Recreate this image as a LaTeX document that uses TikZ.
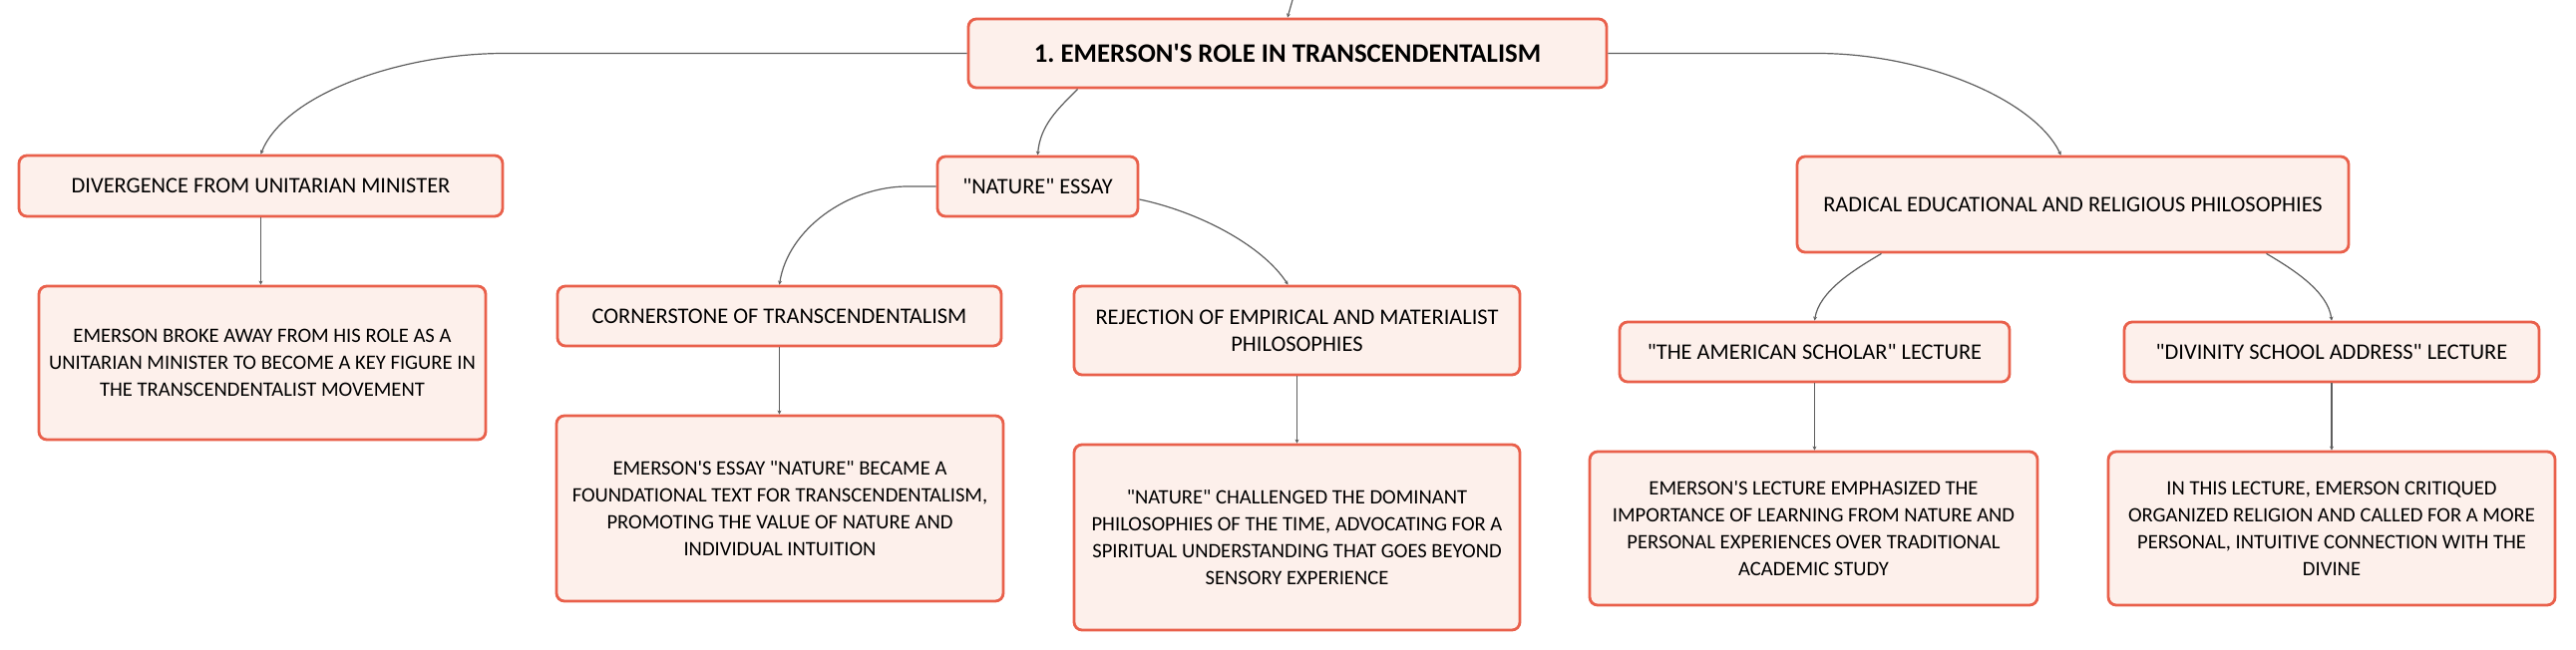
\documentclass[tikz,border=0pt]{standalone}
\usepackage{fontspec}
\setmainfont{Carlito}[Ligatures=TeXOff]
\usetikzlibrary{arrows.meta}
\definecolor{boxred}{HTML}{E9604B}
\definecolor{boxfill}{HTML}{FDF0EB}
\definecolor{linkgray}{HTML}{5E5E5E}
\begin{document}
\begin{tikzpicture}[x=0.5pt,y=-0.5pt,
    box/.style={draw=boxred,fill=boxfill,line width=1.4pt,rounded corners=4pt,align=center,inner sep=0pt,font=\fontsize{11.2}{13.5}\selectfont},
    detail/.style={box,font=\fontsize{10.3}{13.5}\selectfont},
    link/.style={draw=linkgray,line width=0.6pt,-{Stealth[length=2pt,width=2pt]}}]
    \useasboundingbox (0,0) rectangle (2583,652);
    % top level
    \node[box,font=\fontsize{13.4}{15}\selectfont\bfseries,minimum width=320pt,minimum height=34.5pt] (root) at (1291,53.5) {1.\ EMERSON'S ROLE IN TRANSCENDENTALISM};
    \coordinate (up) at (1296,0);
    % branches
    \node[box,minimum width=242.5pt,minimum height=30.5pt] (div) at (261.5,186.5) {DIVERGENCE FROM UNITARIAN MINISTER};
    \node[box,minimum width=100.5pt,minimum height=30pt] (nature) at (1040.5,187) {"NATURE" ESSAY};
    \node[box,minimum width=276.5pt,minimum height=48pt] (radical) at (2078.5,205) {RADICAL EDUCATIONAL AND RELIGIOUS PHILOSOPHIES};
    % sub branches
    \node[box,minimum width=222.5pt,minimum height=30pt] (corner) at (781.5,317) {CORNERSTONE OF TRANSCENDENTALISM};
    \node[box,minimum width=223.5pt,minimum height=44.5pt] (reject) at (1300.5,331.5) {REJECTION OF EMPIRICAL AND MATERIALIST\\PHILOSOPHIES};
    \node[box,minimum width=195.5pt,minimum height=30pt] (scholar) at (1819.5,353) {"THE AMERICAN SCHOLAR" LECTURE};
    \node[box,minimum width=208pt,minimum height=30pt] (divinity) at (2338,353) {"DIVINITY SCHOOL ADDRESS" LECTURE};
    % details
    \node[detail,minimum width=224pt,minimum height=77pt] (divtxt) at (263,364) {EMERSON BROKE AWAY FROM HIS ROLE AS A\\UNITARIAN MINISTER TO BECOME A KEY FIGURE IN\\THE TRANSCENDENTALIST MOVEMENT};
    \node[detail,minimum width=224pt,minimum height=93pt] (cornertxt) at (782,510) {EMERSON'S ESSAY "NATURE" BECAME A\\FOUNDATIONAL TEXT FOR TRANSCENDENTALISM,\\PROMOTING THE VALUE OF NATURE AND\\INDIVIDUAL INTUITION};
    \node[detail,minimum width=223.5pt,minimum height=93pt] (rejecttxt) at (1300.5,539) {"NATURE" CHALLENGED THE DOMINANT\\PHILOSOPHIES OF THE TIME, ADVOCATING FOR A\\SPIRITUAL UNDERSTANDING THAT GOES BEYOND\\SENSORY EXPERIENCE};
    \node[detail,minimum width=224.5pt,minimum height=77pt] (scholartxt) at (1818.5,530) {EMERSON'S LECTURE EMPHASIZED THE\\IMPORTANCE OF LEARNING FROM NATURE AND\\PERSONAL EXPERIENCES OVER TRADITIONAL\\ACADEMIC STUDY};
    \node[detail,minimum width=224pt,minimum height=77pt] (divinitytxt) at (2338,530) {IN THIS LECTURE, EMERSON CRITIQUED\\ORGANIZED RELIGION AND CALLED FOR A MORE\\PERSONAL, INTUITIVE CONNECTION WITH THE\\DIVINE};
    % connectors
    \draw[link] (up) -- (root.north);
    \draw[link] (root.west) -- (506,53.5) .. controls (400,53.5) and (285,95) .. (div.north);
    \draw[link] ([xshift=55.5pt]root.south west) .. controls (1062,108) and (1043,125) .. (nature.north);
    \draw[link] (root.east) -- (1822,53.5) .. controls (1930,53.5) and (2040,100) .. ([xshift=-6pt]radical.north);
    \draw[link] (nature.west) -- (910,187) .. controls (850,187) and (790,230) .. (corner.north);
    \draw[link] ([yshift=-6.5pt]nature.east) .. controls (1200,212) and (1265,245) .. ([xshift=-4.5pt]reject.north);
    \draw[link] ([xshift=-96pt]radical.south) .. controls (1860,270) and (1824,292) .. (scholar.north);
    \draw[link] ([xshift=97pt]radical.south) .. controls (2299,270) and (2334,292) .. (divinity.north);
    \draw[link] (div.south) -- (div.south |- divtxt.north);
    \draw[link] (corner.south) -- (corner.south |- cornertxt.north);
    \draw[link] (reject.south) -- (reject.south |- rejecttxt.north);
    \draw[link] (scholar.south) -- (scholar.south |- scholartxt.north);
    \draw[link] (divinity.south) -- (divinity.south |- divinitytxt.north);
\end{tikzpicture}
\end{document}
